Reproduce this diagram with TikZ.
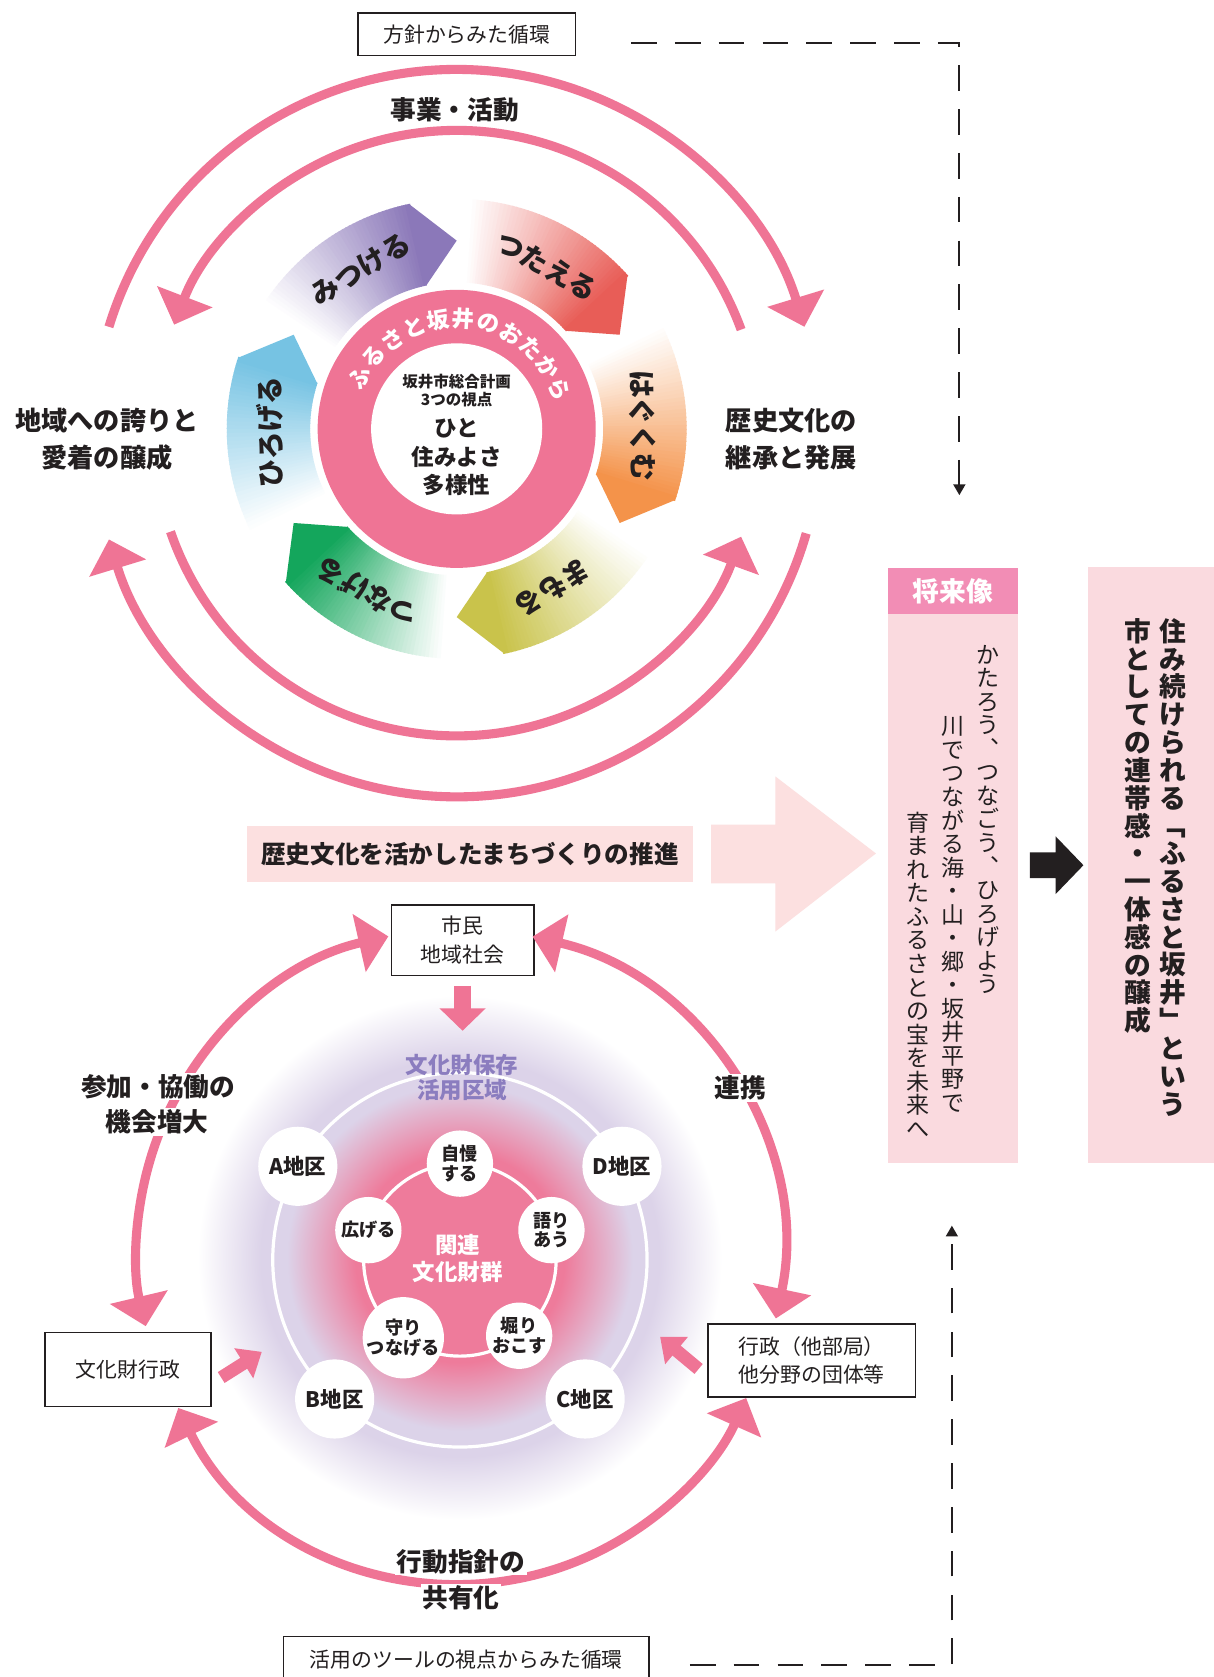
\documentclass[tikz,border=0pt]{standalone}
\usepackage{fontspec}
\setmainfont{Noto Sans CJK JP}
\usetikzlibrary{arrows.meta,calc}
\definecolor{pk}{HTML}{EF7495}
\definecolor{dark}{HTML}{231F20}
\definecolor{banner}{HTML}{FCE0E0}
\definecolor{panel}{HTML}{FADADF}
\definecolor{panelhead}{HTML}{F28DB5}
\definecolor{cMitsu}{HTML}{8B78B9}
\definecolor{cTsuta}{HTML}{E85D57}
\definecolor{cHagu}{HTML}{F4934A}
\definecolor{cMamo}{HTML}{C9C34B}
\definecolor{cTsuna}{HTML}{14A65C}
\definecolor{cHiro}{HTML}{76C3E3}
\definecolor{purp}{HTML}{8B7DBF}
\definecolor{glowpink}{HTML}{EE7B9B}
\definecolor{glowlav}{HTML}{DCD3E9}
\pgfdeclareradialshading{glowsh}{\pgfpoint{0bp}{0bp}}{color(0bp)=(glowpink); color(10bp)=(glowpink); color(16.5bp)=(glowlav); color(19bp)=(glowlav); color(25bp)=(white); color(50bp)=(white)}
\begin{document}
\begin{tikzpicture}[x=1pt,y=1pt,
  arcln/.style={draw=pk, line width=8.5pt},
  headA/.style={-{Triangle[width=54pt,length=28pt]}},
  headAB/.style={{Triangle[width=54pt,length=28pt]}-{Triangle[width=54pt,length=28pt]}},
  lbl/.style={font=\bfseries\fontsize{24}{34}\selectfont, text=dark, align=center, inner sep=0pt},
  arclbl/.style={font=\bfseries\fontsize{24}{24}\selectfont, text=dark, fill=white, inner sep=1.5pt},
  boxframe/.style={draw=dark, line width=1.6pt, fill=white, text=dark, font=\fontsize{19.5}{27}\selectfont, align=center, inner sep=0pt},
  dashln/.style={draw=dark, line width=1.8pt, dash pattern=on 24pt off 17pt},
  dashhead/.style={-{Triangle[width=11pt,length=10pt]}},
  petaltext/.style={font=\bfseries\fontsize{26}{26}\selectfont, text=dark, inner sep=0pt},
  ringln/.style={draw=white, line width=3pt},
  district/.style={circle, fill=white, minimum size=74pt, inner sep=0pt, font=\bfseries\fontsize{20}{20}\selectfont, text=dark},
  verb/.style={circle, fill=white, minimum size=62pt, inner sep=0pt, font=\bfseries\fontsize{17}{18}\selectfont, text=dark, align=center},
  vcol/.style={anchor=north, inner sep=0pt, align=center, text=dark},
  blockarr/.style={draw=pk, line width=12pt, -{Triangle[width=32pt,length=20pt]}},
  bigdown/.style={draw=pk, line width=16pt, -{Triangle[width=42pt,length=21pt]}}
]
\useasboundingbox (0,0) rectangle (1135,1568);
\fill[white] (0,0) rectangle (1135,1568);

% ---------------- TOP CYCLE ----------------
\node[boxframe, minimum width=203pt, minimum height=40pt] (topbox) at (436.5,1536) {方針からみた循環};
\coordinate (d1) at (590,1528);
\coordinate (d2) at (897,1528);
\coordinate (d3) at (897,1105);
\draw[dashln, dashhead] (d1) -- (d2) -- (d3);

\coordinate (C) at (427,1167);
\coordinate (A0) at (427,1163);

\draw[arcln, headA] ($(A0)+(163:340)$) arc[start angle=163, end angle=17, radius=340];
\draw[arcln, headA] ($(A0)+(20:283)$) arc[start angle=20, end angle=159, radius=283];
\draw[arcln, headA] ($(A0)+(-16:340)$) arc[start angle=-16, end angle=-163, radius=340];
\draw[arcln, headA] ($(A0)+(-161:283)$) arc[start angle=-161, end angle=-20, radius=283];

\node[lbl] (jigyo) at (425,1465) {事業・活動};
\node[lbl, font=\bfseries\fontsize{24.5}{35}\selectfont] (left) at (100,1157.5) {地域への誇りと\\愛着の醸成};
\node[lbl, font=\bfseries\fontsize{24.5}{35}\selectfont] (right) at (740,1157.5) {歴史文化の\\継承と発展};

% petals
\foreach \k/\col/\txt in {0/cMitsu/みつける,1/cTsuta/つたえる,2/cHagu/はぐくむ,3/cMamo/まもる,4/cTsuna/つなげる,5/cHiro/ひろげる}{
  \pgfmathsetmacro{\h}{90-60*\k}
  \foreach \i in {0,...,43}{
    \pgfmathsetmacro{\aa}{\h+56-\i}
    \pgfmathsetmacro{\bb}{\h+56-\i-1.3}
    \pgfmathtruncatemacro{\pc}{(\i+1)*100/44}
    \fill[\col!\pc!white] ($(C)+(\aa:137)$) arc[start angle=\aa,end angle=\bb,radius=137] -- ($(C)+(\bb:215)$) arc[start angle=\bb,end angle=\aa,radius=215] -- cycle;
  }
  \pgfmathsetmacro{\hc}{\h+12}
  \fill[\col] ($(C)+(\hc:215)$) -- ($(C)+(\h:176)$) -- ($(C)+(\hc:137)$) -- cycle;
  \pgfmathsetmacro{\tm}{\h+31}
  \node[petaltext, rotate=\tm-90] (p\k) at ($(C)+(\tm:174)$) {\txt};
}

% donut
\fill[pk] (C) circle[radius=130];
\fill[white] (C) circle[radius=80];
\foreach \ch [count=\i from 0] in {ふ,る,さ,と,坂,井,の,お,た,か,ら}{
  \pgfmathsetmacro{\ang}{152-13.1*\i}
  \node[font=\bfseries\fontsize{21}{21}\selectfont, text=white, inner sep=0pt, rotate=\ang-90] (ch\i) at ($(C)+(\ang:103)$) {\ch};
}
\node[font=\bfseries\fontsize{14.5}{14.5}\selectfont, text=dark, inner sep=0pt] (c1) at (427,1211) {坂井市総合計画};
\node[font=\bfseries\fontsize{14.5}{14.5}\selectfont, text=dark, inner sep=0pt] (c2) at (427,1194) {3つの視点};
\node[font=\bfseries\fontsize{21}{21}\selectfont, text=dark, inner sep=0pt] (c3) at (427,1168) {ひと};
\node[font=\bfseries\fontsize{21}{21}\selectfont, text=dark, inner sep=0pt] (c4) at (427,1141) {住みよさ};
\node[font=\bfseries\fontsize{21}{21}\selectfont, text=dark, inner sep=0pt] (c5) at (427,1115) {多様性};

% ---------------- MIDDLE ----------------
\node[fill=banner, minimum width=417pt, minimum height=53pt, inner sep=0pt, text=dark, font=\bfseries\fontsize{23}{23}\selectfont] (banner) at (439.5,769.5) {歴史文化を活かしたまちづくりの推進};
\fill[banner] (665,797) -- (725,797) -- (725,842) -- (819,770) -- (725,697) -- (725,742) -- (665,742) -- cycle;

% right panels
\fill[panelhead] (830,994) rectangle (952,1037);
\fill[panel] (830,481) rectangle (952,994);
\node[font=\bfseries\fontsize{25}{25}\selectfont, text=white, inner sep=0pt] (head) at (891,1015.5) {将来像};
\node[vcol, font=\fontsize{21.5}{22}\selectfont] (vc1) at (924,965) {か\\た\\ろ\\う\\︑\\つ\\な\\ご\\う\\︑\\ひ\\ろ\\げ\\よ\\う};
\node[vcol, font=\fontsize{21.5}{22}\selectfont] (vc2) at (891,898) {川\\で\\つ\\な\\が\\る\\海\\・\\山\\・\\郷\\・\\坂\\井\\平\\野\\で};
\node[vcol, font=\fontsize{21.5}{22}\selectfont] (vc3) at (858,809) {育\\ま\\れ\\た\\ふ\\る\\さ\\と\\の\\宝\\を\\未\\来\\へ};

\fill[dark] (963,771) -- (987,771) -- (987,786) -- (1013,759) -- (987,732) -- (987,747) -- (963,747) -- cycle;

\fill[panel] (1017,481) rectangle (1135,1038);
\node[vcol, font=\bfseries\fontsize{25}{26}\selectfont] (vr1) at (1097,990) {住\\み\\続\\け\\ら\\れ\\る\\﹁\\ふ\\る\\さ\\と\\坂\\井\\﹂\\と\\い\\う};
\node[vcol, font=\bfseries\fontsize{25}{26}\selectfont] (vr2) at (1064,990) {市\\と\\し\\て\\の\\連\\帯\\感\\・\\一\\体\\感\\の\\醸\\成};

% ---------------- BOTTOM CYCLE ----------------
\coordinate (G) at (430,392);
\shade[shading=glowsh] (G) circle[radius=245];
\coordinate (R) at (430,390);
\draw[ringln] (R) circle[radius=175];
\draw[ringln] (R) circle[radius=90];

\node[font=\bfseries\fontsize{21}{23}\selectfont, text=purp, align=center, inner sep=0pt] (zone) at (432,560.5) {文化財保存\\活用区域};

\node[district] (dA) at ($(R)+(150:175)$) {A地区};
\node[district] (dD) at ($(R)+(30:175)$) {D地区};
\node[district] (dB) at ($(R)+(-132:175)$) {B地区};
\node[district] (dC) at ($(R)+(-48:175)$) {C地区};

\node[verb] (v1) at ($(R)+(90:90)$) {自慢\\する};
\node[verb] (v2) at ($(R)+(18:90)$) {語り\\あう};
\node[verb] (v3) at ($(R)+(-52:90)$) {堀り\\おこす};
\node[verb] (v4) at ($(R)+(-126:90)$) {守り\\つなげる};
\node[verb] (v5) at ($(R)+(162:90)$) {広げる};
\node[font=\bfseries\fontsize{21}{25}\selectfont, text=white, align=center, inner sep=0pt] (core) at (428,391.5) {関連\\文化財群};

\node[boxframe, minimum width=133pt, minimum height=66pt] (shimin) at (432.5,689) {市民\\地域社会};
\node[boxframe, minimum width=155pt, minimum height=69pt] (bunka) at (119.5,287.5) {文化財行政};
\node[boxframe, minimum width=194pt, minimum height=68pt] (gyosei) at (759,296) {行政（他部局）\\他分野の団体等};
\node[boxframe, minimum width=342pt, minimum height=44pt] (botbox) at (436,16) {活用のツールの視点からみた循環};

\draw[bigdown] ([yshift=-9pt]shimin.south) -- ++(0,-42);
\draw[blockarr] ([shift={(9,-7.5)}]bunka.east) -- ++(38,24);
\draw[blockarr] ([shift={(-8,-8)}]gyosei.west) -- ++(-36,30);

\coordinate (B0) at (430,398);
\coordinate (B1) at (430,380);
\draw[arcln, headAB] ($(B0)+(102.8:302)$) arc[start angle=102.8, end angle=193.4, radius=302];
\draw[arcln, headAB] ($(B0)+(77:302)$) arc[start angle=77, end angle=-12, radius=302];
\draw[arcln, headAB] ($(B1)+(-154:293)$) arc[start angle=-154, end angle=-24, radius=293];

\node[arclbl] (lab1a) at (148,552) {参加・協働の};
\node[arclbl] (lab1b) at (147,519) {機会増大};
\node[arclbl] (lab2) at (692,551) {連携};
\node[arclbl] (lab3a) at (431,108) {行動指針の};
\node[arclbl] (lab3b) at (431,74) {共有化};

\coordinate (e1) at (645,11);
\coordinate (e2) at (890,11);
\coordinate (e3) at (890,422);
\draw[dashln, dashhead] (e1) -- (e2) -- (e3);
\end{tikzpicture}
\end{document}
